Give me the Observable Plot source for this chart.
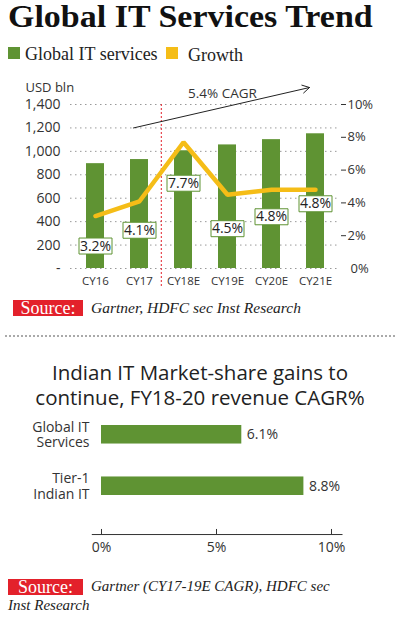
<!DOCTYPE html>
<html><head><meta charset="utf-8">
<script src="https://cdn.jsdelivr.net/npm/d3@7"></script>
<script src="https://cdn.jsdelivr.net/npm/@observablehq/plot@0.6"></script>
<style>
html,body{margin:0;padding:0;background:#fff;}
body{width:400px;height:621px;position:relative;overflow:hidden;font-family:"Open Sans",sans-serif;color:#222;}
.abs{position:absolute;}
#title{left:8px;top:0;font:bold 31px/34px "Liberation Serif",serif;color:#111;white-space:nowrap;transform-origin:0 0;}
.sw{width:12px;height:12px;}
.leg{font:18px/20px "Liberation Serif",serif;color:#222;white-space:nowrap;}
.src{background:#e3212b;color:#fff;font:18px/16px "Liberation Serif",serif;text-align:center;}
.srct{font:italic 15.5px/19px "Liberation Serif",serif;color:#222;white-space:nowrap;}
#sep{left:5px;width:390px;top:335px;border-top:2px dotted #aaa;}
#t2{left:0;width:400px;top:360px;text-align:center;font:500 20.5px/25px "Open Sans",sans-serif;color:#222;}
svg{overflow:visible;}
</style></head><body>
<div id="title" class="abs">Global IT Services Trend</div>
<div class="abs sw" style="left:8px;top:47px;background:#5f9333"></div>
<div class="abs leg" style="left:25px;top:44px">Global IT services</div>
<div class="abs sw" style="left:166px;top:47px;background:#f5bd17"></div>
<div class="abs leg" style="left:188px;top:45px">Growth</div>
<div id="c1" class="abs" style="left:0;top:70px"></div>
<div class="abs src" style="left:13px;top:300px;width:70px;height:16px">Source:</div>
<div class="abs srct" style="left:91px;top:298px">Gartner, HDFC sec Inst Research</div>
<div id="sep" class="abs"></div>
<div id="t2" class="abs">Indian IT Market-share gains to<br>continue, FY18-20 revenue CAGR%</div>
<div id="c2" class="abs" style="left:0;top:405px"></div>
<div class="abs src" style="left:8px;top:579px;width:75px;height:16px">Source:</div>
<div class="abs srct" style="left:91px;top:577px;font-size:15px">Gartner (CY17-19E CAGR), HDFC sec</div>
<div class="abs srct" style="left:8px;top:596px;font-size:15px">Inst Research</div>
<script>
// ---- Data: chart 1 ----
const years = ["CY16", "CY17", "CY18E", "CY19E", "CY20E", "CY21E"];
const spending = [895, 930, 1005, 1055, 1100, 1150];   // USD bln
const growth = [3.2, 4.1, 7.7, 4.5, 4.8, 4.8];          // %
const leftTicks = [0, 200, 400, 600, 800, 1000, 1200, 1400];
const rightTicks = [0, 2, 4, 6, 8, 10];
const forecastStart = "CY18E";
const cagrLabel = "5.4% CAGR";
const cagrFrom = "CY17", cagrTo = "CY21E";
const cagrFromValue = 1200, cagrToValue = 1545, cagrLabelValue = 1490, cagrLabelAt = "CY19E";

// ---- Data: chart 2 ----
const shareCats = ["Global IT Services", "Tier-1 Indian IT"];
const shareLabels = ["Global IT\nServices", "Tier-1\nIndian IT"];
const shareValues = [6.1, 8.8];
const shareTicks = [0, 5, 10];

const green = "#5f9333", yellow = "#f5bd17", red = "#e3212b";
const k = 1400 / 10; // right axis % -> left axis units
const rows = years.map((year, i) => ({year, value: spending[i], growth: growth[i]}));
const labelNudge = [30, 29, 41, 34, 27, 14];
const boxSymbol = {draw(ctx) { ctx.moveTo(-16.5, -8); ctx.lineTo(16.5, -8); ctx.lineTo(16.5, 8); ctx.lineTo(-16.5, 8); ctx.closePath(); }};
const font = "'Open Sans', sans-serif";

const labelMarks = rows.flatMap((d, i) => [
  Plot.dot([d], {x: "year", y: r => r.growth * k, dy: labelNudge[i], symbol: boxSymbol, fill: "white", stroke: green, strokeWidth: 1}),
  Plot.text([d], {x: "year", y: r => r.growth * k, dy: labelNudge[i], text: r => r.growth.toFixed(1) + "%", fontSize: 14, fill: "#222"})
]);

const chart1 = Plot.plot({
  width: 400, height: 225,
  marginLeft: 70, marginRight: 60, marginTop: 34, marginBottom: 27,
  style: {fontFamily: font, fontSize: "14px", color: "#333", background: "transparent", overflow: "visible"},
  x: {domain: years, paddingInner: 0.6, paddingOuter: 0.34},
  y: {domain: [0, 1400]},
  marks: [
    Plot.ruleY(leftTicks, {stroke: "#999", strokeDasharray: "1.5,3.5", strokeWidth: 1}),
    Plot.barY(rows, {x: "year", y: "value", fill: green}),
    Plot.ruleX([forecastStart], {dx: -22.2, y1: 1400, y2: 0, insetBottom: -19, stroke: red, strokeDasharray: "2,2", strokeWidth: 1}),
    Plot.line(rows, {x: "year", y: d => d.growth * k, stroke: yellow, strokeWidth: 4.5, strokeLinejoin: "miter"}),
    ...labelMarks,
    Plot.arrow([{a: cagrFrom, b: cagrTo, va: cagrFromValue, vb: cagrToValue}], {x1: "a", y1: "va", x2: "b", y2: "vb", dx: -6, stroke: "#222", strokeWidth: 1, headLength: 12, bend: 0}),
    Plot.text([cagrLabel], {x: () => cagrLabelAt, y: () => cagrLabelValue, dx: -5, fontSize: 13.5, fill: "#333"}),
    Plot.axisY(leftTicks, {anchor: "left", tickSize: 0, tickPadding: 10, tickFormat: d => d === 0 ? "-" : d3.format(",")(d), fontSize: 14, label: null}),
    Plot.axisY(rightTicks.filter(v => v > 0).map(v => v * k), {anchor: "right", tickSize: 5, tickPadding: 2, tickFormat: d => Math.round(d / k) + "%", fontSize: 13, label: null}),
    Plot.axisY([0], {anchor: "right", tickSize: 0, tickPadding: 10, tickFormat: d => "0%", fontSize: 13, label: null}),
    Plot.axisX({tickSize: 0, tickPadding: 8, fontSize: 11.5, label: null}),
    Plot.text(["USD bln"], {frameAnchor: "top-left", dx: -45, dy: -22, textAnchor: "start", fontSize: 13, fill: "#333"})
  ]
});
document.getElementById("c1").appendChild(chart1);

const rows2 = shareCats.map((cat, i) => ({cat, label: shareLabels[i], value: shareValues[i]}));
const chart2 = Plot.plot({
  width: 400, height: 160,
  marginLeft: 101, marginRight: 69, marginTop: 20, marginBottom: 31,
  style: {fontFamily: font, fontSize: "14px", color: "#333", background: "transparent", overflow: "visible"},
  x: {domain: [0, 10]},
  y: {domain: shareCats, range: [20, 90], paddingInner: 0.64, paddingOuter: 0, round: false, axis: null},
  marks: [
    Plot.barX(rows2, {x: "value", y: "cat", fill: green}),
    Plot.text(rows2, {x: "value", y: "cat", text: d => d.value.toFixed(1) + "%", dx: 5, textAnchor: "start", fontSize: 14, fill: "#333"}),
    Plot.text(rows2, {y: "cat", text: "label", frameAnchor: "left", textAnchor: "end", dx: -12, lineHeight: 1.1, fontSize: 14, fill: "#333"}),
    Plot.ruleY([shareCats[1]], {x1: -0.4, x2: 10.5, dy: 48.3, stroke: "#333", strokeWidth: 1}),
    Plot.tickX(shareTicks, {y: () => shareCats[1], insetTop: 13.5, dy: 39, stroke: "#333", strokeWidth: 1}),
    Plot.axisX(shareTicks, {tickSize: 0, tickPadding: 8, tickFormat: d => d + "%", fontSize: 14, label: null}),
  ]
});
document.getElementById("c2").appendChild(chart2);

// stretch heavy title to the reference width
const t = document.getElementById("title");
t.style.transform = `scaleX(${365 / t.offsetWidth})`;
</script>
</body></html>
